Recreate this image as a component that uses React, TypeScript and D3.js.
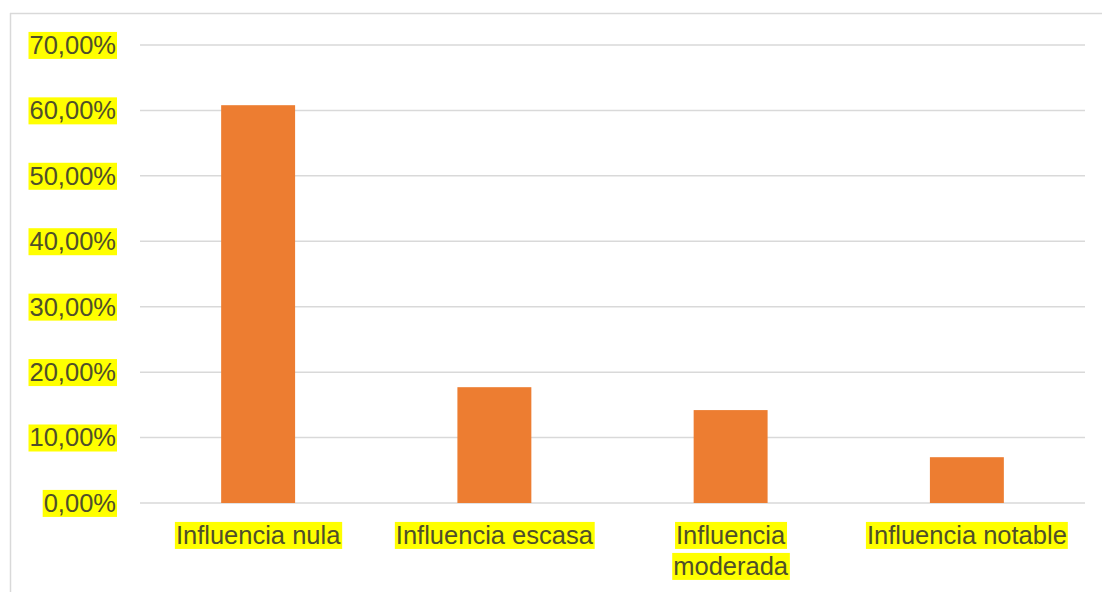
import React, { useEffect, useRef } from "react";
import * as d3 from "d3";

const categories: string[][] = [
  ["Influencia nula"],
  ["Influencia escasa"],
  ["Influencia", "moderada"],
  ["Influencia notable"],
];
const values: number[] = [0.608, 0.177, 0.142, 0.07];
const yTicks: number[] = [0, 0.1, 0.2, 0.3, 0.4, 0.5, 0.6, 0.7];

const W = 1102;
const H = 592;

export default function App() {
  const ref = useRef<SVGSVGElement>(null);

  useEffect(() => {
    const svg = d3.select(ref.current);
    svg.selectAll("*").remove();

    const left = 140, right = 1085, top = 45, bottom = 503;
    const x = d3.scaleBand<number>().domain(d3.range(values.length)).range([left, right]).paddingInner(0.687).paddingOuter(0.3435);
    const y = d3.scaleLinear().domain([0, 0.7]).range([bottom, top]);

    // chart frame
    svg.append("line").attr("x1", 10.5).attr("x2", 10.5).attr("y1", 13).attr("y2", H).attr("stroke", "#d9d9d9").attr("stroke-width", 1.5);
    svg.append("line").attr("x1", 10).attr("x2", W).attr("y1", 13.5).attr("y2", 13.5).attr("stroke", "#d9d9d9").attr("stroke-width", 1.5);

    // gridlines
    svg.append("g").selectAll("line").data(yTicks).join("line")
      .attr("x1", left).attr("x2", right)
      .attr("y1", (d) => y(d)).attr("y2", (d) => y(d))
      .attr("stroke", "#d9d9d9").attr("stroke-width", 1.5);

    // bars
    svg.append("g").selectAll("rect").data(values).join("rect")
      .attr("x", (_, i) => x(i)!)
      .attr("width", x.bandwidth())
      .attr("y", (d) => y(d))
      .attr("height", (d) => bottom - y(d))
      .attr("fill", "#ed7d31");

    const fmt = (v: number) => (v * 100).toFixed(2).replace(".", ",") + "%";
    const textColor = "#4f4f2a";
    const font = "'Liberation Sans', Arial, sans-serif";

    const highlight = (t: d3.Selection<SVGTextElement, unknown, null, undefined>) => {
      const node = t.node()!;
      const b = node.getBBox();
      d3.select(node.parentNode as SVGGElement).insert("rect", () => node)
        .attr("x", b.x - 1).attr("y", b.y + 1).attr("width", b.width + 2).attr("height", b.height - 1)
        .attr("fill", "#ffff00");
    };

    const yg = svg.append("g");
    yTicks.forEach((v) => {
      const t = yg.append("text").attr("x", 116).attr("y", y(v)).attr("dy", "0.35em")
        .attr("text-anchor", "end").attr("font-family", font).attr("font-size", 25.5)
        .attr("fill", textColor).text(fmt(v));
      highlight(t as any);
    });

    const xg = svg.append("g");
    categories.forEach((lines, i) => {
      const cx = x(i)! + x.bandwidth() / 2;
      lines.forEach((ln, j) => {
        const t = xg.append("text").attr("x", cx).attr("y", 535 + j * 31).attr("dy", "0.35em")
          .attr("text-anchor", "middle").attr("font-family", font).attr("font-size", 25.5)
          .attr("fill", textColor).text(ln);
        highlight(t as any);
      });
    });
  }, []);

  return (
    <svg ref={ref} width={W} height={H} style={{ position: "absolute", left: 0, top: 0, background: "#fff" }} />
  );
}
